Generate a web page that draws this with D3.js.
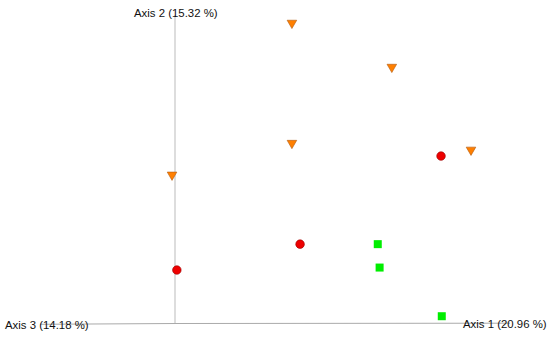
<!DOCTYPE html>
<html>
<head>
<meta charset="utf-8">
<script src="https://cdn.jsdelivr.net/npm/d3@7"></script>
<style>
  body { margin: 0; background: #fff; }
  text { font-family: "Liberation Sans", Arial, sans-serif; font-size: 11.4px; fill: #111; }
</style>
</head>
<body>
<div id="plot"></div>
<script>
// axis labels (percent of variance explained)
const axisLabels = ["Axis 1 (20.96 %)", "Axis 2 (15.32 %)", "Axis 3 (14.18 %)"];

// projected sample coordinates, [axis1, axis2], one array per group
const groupA = [[0.316, 0.974], [0.586, 0.831], [0.316, 0.584], [0.800, 0.562], [-0.008, 0.481]]; // triangles
const groupB = [[0.719, 0.542], [0.338, 0.256], [0.005, 0.172]]; // circles
const groupC = [[0.548, 0.256], [0.553, 0.180], [0.721, 0.022]]; // squares

const width = 550, height = 337;

const svg = d3.select("#plot").append("svg")
    .attr("width", width)
    .attr("height", height);

const x = d3.scaleLinear().domain([0, 1]).range([175, 545]);
const y = d3.scaleLinear().domain([0, 1]).range([323, 15]);

// axis lines
svg.append("line")
    .attr("x1", x(0)).attr("x2", x(0))
    .attr("y1", y(1)).attr("y2", y(0))
    .attr("stroke", "#bbb").attr("stroke-width", 1);

svg.append("line")
    .attr("x1", x(0)).attr("x2", 510)
    .attr("y1", y(0) + 0.5).attr("y2", y(0) + 0.2)
    .attr("stroke", "#aaa").attr("stroke-width", 1);

svg.append("line")
    .attr("x1", x(0)).attr("x2", 40)
    .attr("y1", y(0) + 0.5).attr("y2", y(0) + 1.3)
    .attr("stroke", "#aaa").attr("stroke-width", 1);

// points
svg.selectAll(".tri").data(groupA).enter()
    .append("path")
    .attr("class", "tri")
    .attr("d", d3.symbol().type(d3.symbolTriangle).size(40))
    .attr("transform", d => "translate(" + x(d[0]) + "," + y(d[1]) + ") rotate(180)")
    .attr("fill", "#ff7f00")
    .attr("stroke", "#b05a10")
    .attr("stroke-width", 0.6);

svg.selectAll(".circ").data(groupB).enter()
    .append("circle")
    .attr("class", "circ")
    .attr("cx", d => x(d[0]))
    .attr("cy", d => y(d[1]))
    .attr("r", 4.3)
    .attr("fill", "#ee0000")
    .attr("stroke", "#990000")
    .attr("stroke-width", 0.6);

svg.selectAll(".sq").data(groupC).enter()
    .append("rect")
    .attr("class", "sq")
    .attr("x", d => x(d[0]) - 4)
    .attr("y", d => y(d[1]) - 4)
    .attr("width", 8)
    .attr("height", 8)
    .attr("fill", "#00ee00");

// axis titles
svg.append("text").attr("x", 463).attr("y", 328).text(axisLabels[0]);
svg.append("text").attr("x", 134).attr("y", 17).text(axisLabels[1]);
svg.append("text").attr("x", 5).attr("y", 329).text(axisLabels[2]);
</script>
</body>
</html>
